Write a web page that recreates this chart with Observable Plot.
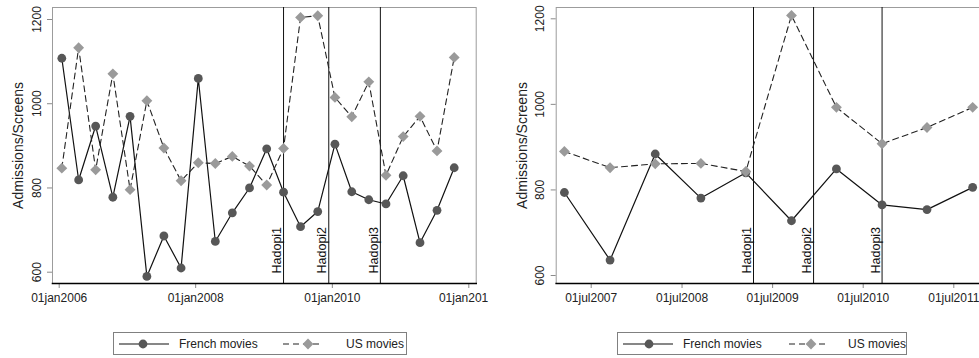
<!DOCTYPE html>
<html><head><meta charset="utf-8">
<script src="https://cdn.jsdelivr.net/npm/d3@7"></script>
<script src="https://cdn.jsdelivr.net/npm/@observablehq/plot@0.6"></script>
<style>
html,body{margin:0;padding:0;background:#fff;width:979px;height:358px;overflow:hidden;font-family:"Liberation Sans",Arial,sans-serif;}
#left{position:absolute;left:0;top:0;width:489px;height:320px;overflow:hidden;}
#right{position:absolute;left:490px;top:0;width:500px;height:320px;}
#left svg,#right svg{max-width:none;}
.legend{position:absolute;border:1px solid #808080;height:23px;box-sizing:border-box;font-size:12px;color:#222;background:#fff;}
.legend svg{position:absolute;top:0;}
.legend span{position:absolute;top:4px;white-space:nowrap;}
</style></head><body>
<div id="left"></div><div id="right"></div>
<div class="legend" id="legL" style="left:113px;top:332px;width:294px"></div>
<div class="legend" id="legR" style="left:617px;top:332px;width:290px"></div>
<script>
// Quarterly series (left panel)
const quarterDates = ["2006-01-15","2006-04-15","2006-07-15","2006-10-15",
  "2007-01-15","2007-04-15","2007-07-15","2007-10-15",
  "2008-01-15","2008-04-15","2008-07-15","2008-10-15",
  "2009-01-15","2009-04-15","2009-07-15","2009-10-15",
  "2010-01-15","2010-04-15","2010-07-15","2010-10-15",
  "2011-01-15","2011-04-15","2011-07-15","2011-10-15"];
const frenchQuarterly = [1108, 819, 947, 778, 970, 590, 686, 610, 1060, 673, 741, 800,
  893, 790, 708, 744, 904, 791, 772, 762, 829, 670, 747, 848];
const usQuarterly = [847, 1133, 843, 1071, 796, 1007, 895, 817, 860, 858, 875, 852,
  807, 894, 1205, 1209, 1015, 969, 1052, 830, 922, 970, 888, 1110];

// Semi-annual series (right panel)
const semesterDates = ["2007-03-15","2007-09-15","2008-03-15","2008-09-15","2009-03-15",
  "2009-09-15","2010-03-15","2010-09-15","2011-03-15","2011-09-15"];
const frenchSemester = [794, 636, 884, 781, 840, 728, 849, 765, 754, 806];
const usSemester = [890, 852, 861, 862, 843, 1208, 993, 908, 946, 993];

// Events
const hadopiDates = ["2009-04-15", "2009-12-13", "2010-09-15"];
const hadopiLabels = ["Hadopi1", "Hadopi2", "Hadopi3"];

// Axes
const yTicks = [600, 800, 1000, 1200];
const xTicksLeft = ["2006-01-01", "2008-01-01", "2010-01-01", "2012-01-01"];
const xTickLabelsLeft = ["01jan2006", "01jan2008", "01jan2010", "01jan201"];
const xTicksRight = ["2007-07-01", "2008-07-01", "2009-07-01", "2010-07-01", "2011-07-01"];
const xTickLabelsRight = ["01jul2007", "01jul2008", "01jul2009", "01jul2010", "01jul2011"];
const yTitle = "Admissions/Screens";
const seriesNames = ["French movies", "US movies"];

const parse = d3.utcParse("%Y-%m-%d");
const FONT = "'Liberation Sans', Arial, sans-serif";
const hadopi = hadopiDates.map((d, i) => ({date: parse(d), label: hadopiLabels[i]}));

function panel({width, ml, mr, xDomain, xRange, yRange, dates, french, us, ticks, tickLabels, edgeLabel}) {
  const data = dates.map((d, i) => ({date: parse(d), french: french[i], us: us[i]}));
  const labels = ticks.map((d, i) => ({date: parse(d), label: tickLabels[i], edge: edgeLabel && i === ticks.length - 1}));
  return Plot.plot({
    width, height: 320,
    marginLeft: ml, marginRight: mr, marginTop: 7, marginBottom: 37,
    style: {fontFamily: FONT, fontSize: "12px", background: "white", color: "#222", overflow: "visible"},
    x: {type: "utc", domain: xDomain.map(parse), range: xRange},
    y: {domain: [600, 1200], range: yRange},
    marks: [
      Plot.frame({stroke: "#9c9c9c"}),
      Plot.ruleX(hadopi, {x: "date", stroke: "#111", strokeWidth: 1}),
      Plot.text(hadopi, {x: "date", text: "label", frameAnchor: "bottom", rotate: -90,
        textAnchor: "start", lineAnchor: "bottom", dy: -10, dx: -2.5, fontSize: 12.5, fill: "#111"}),
      Plot.line(data, {x: "date", y: "french", stroke: "#111", strokeWidth: 1.2}),
      Plot.dot(data, {x: "date", y: "french", r: 4.4, fill: "#575757", stroke: "none"}),
      Plot.line(data, {x: "date", y: "us", stroke: "#222", strokeWidth: 1.1, strokeDasharray: "6,4"}),
      Plot.dot(data, {x: "date", y: "us", symbol: "diamond2", r: 4.9, fill: "#9a9a9a", stroke: "none"}),
      Plot.axisX(labels.map(d => d.date), {tickSize: 5, stroke: "#8a8a8a", tickFormat: () => "", label: null}),
      Plot.text(labels.filter(d => !d.edge), {x: "date", text: "label", frameAnchor: "bottom",
        lineAnchor: "top", textAnchor: "middle", dy: 10, fontSize: 12, fill: "#222"}),
      Plot.text(labels.filter(d => d.edge), {x: "date", text: "label", frameAnchor: "bottom",
        lineAnchor: "top", textAnchor: "end", dx: 19.5, dy: 10, fontSize: 12, fill: "#222"}),
      Plot.axisY(yTicks, {tickSize: 5, tickPadding: 7, tickRotate: -90, stroke: "#8a8a8a",
        fill: "#222", label: null, fontSize: 12, tickFormat: d => String(d)}),
      Plot.text([yTitle], {frameAnchor: "left", text: d => d, rotate: -90, textAnchor: "middle",
        lineAnchor: "middle", dx: -33.5, fontSize: 14, fill: "#222"}),
      Plot.frame({anchor: "bottom", stroke: "#000", strokeWidth: 1.6})
    ]
  });
}

document.getElementById("left").append(panel({
  width: 489, ml: 52, mr: 489 - 475.7,
  xDomain: [xTicksLeft[0], xTicksLeft[3]], xRange: [58.7, 468.3],
  yRange: [271.7, 19],
  dates: quarterDates, french: frenchQuarterly, us: usQuarterly,
  ticks: xTicksLeft, tickLabels: xTickLabelsLeft, edgeLabel: true
}));

document.getElementById("right").append(panel({
  width: 500, ml: 65.7, mr: 5,
  xDomain: [xTicksRight[0], xTicksRight[4]], xRange: [100.7, 463.3],
  yRange: [275, 18.3],
  dates: semesterDates, french: frenchSemester, us: usSemester,
  ticks: xTicksRight, tickLabels: xTickLabelsRight, edgeLabel: false
}));

function legend(el, lineCX, circleX, textX1, dashX, diamondX, textX2) {
  const ns = "http://www.w3.org/2000/svg";
  const svg = document.createElementNS(ns, "svg");
  svg.setAttribute("width", 300); svg.setAttribute("height", 21);
  svg.innerHTML =
    `<line x1="${lineCX - 25}" x2="${lineCX + 25}" y1="11" y2="11" stroke="#111" stroke-width="1.2"/>` +
    `<circle cx="${circleX}" cy="11" r="4.4" fill="#575757"/>` +
    `<line x1="${dashX - 18}" x2="${dashX + 18}" y1="11" y2="11" stroke="#222" stroke-width="1.1" stroke-dasharray="6,4"/>` +
    `<path d="M${diamondX},${11 - 5.4}L${diamondX + 5.4},11L${diamondX},${11 + 5.4}L${diamondX - 5.4},11Z" fill="#9a9a9a"/>`;
  el.append(svg);
  const s1 = document.createElement("span"); s1.textContent = seriesNames[0]; s1.style.left = textX1 + "px";
  const s2 = document.createElement("span"); s2.textContent = seriesNames[1]; s2.style.left = textX2 + "px";
  el.append(s1, s2);
}
legend(document.getElementById("legL"), 30, 29, 65, 187, 194, 232);
legend(document.getElementById("legR"), 30, 31, 65, 189, 193, 230);
</script>
</body></html>
